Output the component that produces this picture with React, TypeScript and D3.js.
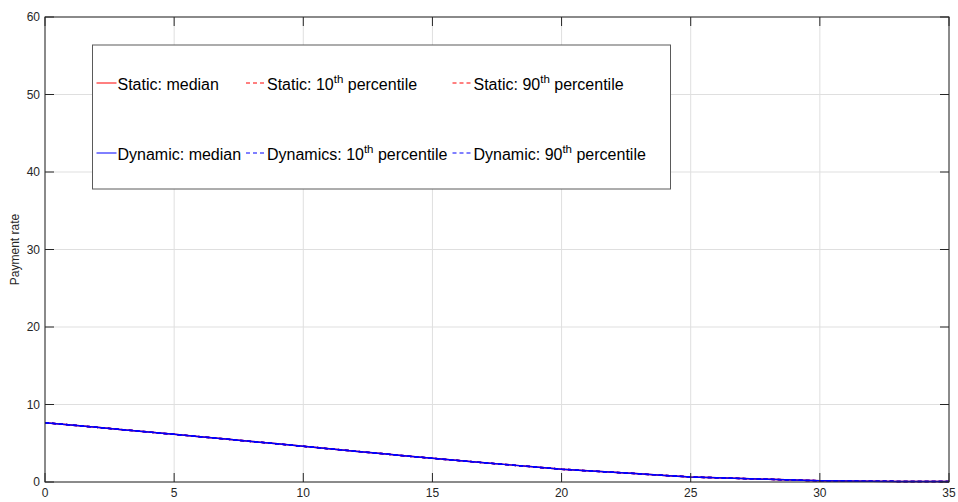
import React from "react";
import * as d3 from "d3";

const years = d3.range(0, 36);
const staticMedian = [7.65,7.35,7.05,6.75,6.45,6.15,5.85,5.54,5.23,4.92,4.6,4.29,3.98,3.67,3.36,3.05,2.77,2.49,2.21,1.93,1.65,1.45,1.25,1.05,0.85,0.65,0.55,0.45,0.35,0.25,0.15,0.12,0.1,0.08,0.06,0.05];
const staticP10 = staticMedian.map((v) => v);
const staticP90 = staticMedian.map((v) => v);
const dynamicMedian = staticMedian.map((v) => v);
const dynamicP10 = staticMedian.map((v) => v);
const dynamicP90 = staticMedian.map((v) => v);

const xTicks = [0, 5, 10, 15, 20, 25, 30, 35];
const yTicks = [0, 10, 20, 30, 40, 50, 60];

const seriesList = [
  { name: "Static: median", pre: "Static: median", sup: "", post: "", values: staticMedian, color: "#ff0000", dash: "" },
  { name: "Static p10", pre: "Static: 10", sup: "th", post: " percentile", values: staticP10, color: "#ff0000", dash: "4,3" },
  { name: "Static p90", pre: "Static: 90", sup: "th", post: " percentile", values: staticP90, color: "#ff0000", dash: "4,3" },
  { name: "Dynamic: median", pre: "Dynamic: median", sup: "", post: "", values: dynamicMedian, color: "#0000ff", dash: "" },
  { name: "Dynamics p10", pre: "Dynamics: 10", sup: "th", post: " percentile", values: dynamicP10, color: "#0000ff", dash: "4,3" },
  { name: "Dynamic p90", pre: "Dynamic: 90", sup: "th", post: " percentile", values: dynamicP90, color: "#0000ff", dash: "4,3" },
];

export default function App() {
  const W = 958, H = 502;
  const left = 45, right = 949, top = 17, bottom = 482;
  const x = d3.scaleLinear().domain([0, 35]).range([left, right]);
  const y = d3.scaleLinear().domain([0, 60]).range([bottom, top]);
  const line = d3.line<number>().x((_, i) => x(years[i])).y((d) => y(d));
  const axisColor = "#262626";
  const font = "'Liberation Sans', Arial, Helvetica, sans-serif";
  const tickLen = 9;

  const legendCols = [96.5, 246, 452.5];
  const legendRows = [83, 153];

  return (
    <svg width={W} height={H} style={{ position: "absolute", left: 0, top: 0 }} fontFamily={font}>
      <rect x={0} y={0} width={W} height={H} fill="#fff" />
      {xTicks.map((t) => (
        <line key={"gx" + t} x1={x(t)} x2={x(t)} y1={top} y2={bottom} stroke="#dfdfdf" strokeWidth={1} />
      ))}
      {yTicks.map((t) => (
        <line key={"gy" + t} x1={left} x2={right} y1={y(t)} y2={y(t)} stroke="#dfdfdf" strokeWidth={1} />
      ))}
      {seriesList.map((s) => (
        <path key={s.name} d={line(s.values) || ""} fill="none" stroke={s.color} strokeWidth={1.5} strokeDasharray={s.dash} />
      ))}
      <rect x={left} y={top} width={right - left} height={bottom - top} fill="none" stroke={axisColor} strokeWidth={1} />
      {xTicks.map((t) => (
        <g key={"tx" + t}>
          <line x1={x(t)} x2={x(t)} y1={bottom} y2={bottom - tickLen} stroke={axisColor} />
          <line x1={x(t)} x2={x(t)} y1={top} y2={top + tickLen} stroke={axisColor} />
          <text x={x(t)} y={bottom + 15} textAnchor="middle" fontSize={12} fill={axisColor}>{t}</text>
        </g>
      ))}
      {yTicks.map((t) => (
        <g key={"ty" + t}>
          <line x1={left} x2={left + tickLen} y1={y(t)} y2={y(t)} stroke={axisColor} />
          <line x1={right} x2={right - tickLen} y1={y(t)} y2={y(t)} stroke={axisColor} />
          <text x={left - 5} y={y(t) + 4} textAnchor="end" fontSize={12} fill={axisColor}>{t}</text>
        </g>
      ))}
      <text transform={`translate(19,${(top + bottom) / 2}) rotate(-90)`} textAnchor="middle" fontSize={12} fill={axisColor}>Payment rate</text>
      <rect x={92.5} y={45} width={578} height={144} fill="#fff" stroke="#5a5a5a" strokeWidth={1} />
      {seriesList.map((s, i) => {
        const col = i % 3;
        const row = Math.floor(i / 3);
        const lx = legendCols[col];
        const ly = legendRows[row];
        return (
          <g key={"lg" + s.name}>
            <line x1={lx} x2={lx + 20} y1={ly} y2={ly} stroke={s.color} strokeWidth={1} strokeDasharray={s.dash} />
            <text x={lx + 21} y={ly + 6.5} fontSize={16} fill="#000">
              <tspan>{s.pre}</tspan>
              {s.sup ? <tspan fontSize={11.5} dy={-7}>{s.sup}</tspan> : null}
              {s.sup ? <tspan dy={7}>{s.post}</tspan> : null}
            </text>
          </g>
        );
      })}
    </svg>
  );
}
